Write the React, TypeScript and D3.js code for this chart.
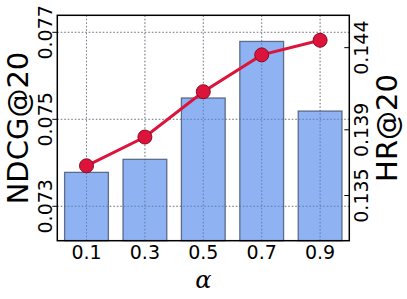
import React from "react";
import * as d3 from "d3";

const categories = ["0.1", "0.3", "0.5", "0.7", "0.9"];
const ndcgValues = [0.07378, 0.07408, 0.07549, 0.07679, 0.07519];
const hrValues = [0.13681, 0.13856, 0.14132, 0.14356, 0.14445];
const leftTicks = [0.073, 0.075, 0.077];
const rightTicks = [0.135, 0.139, 0.144];

const W = 407, H = 299;
const L = 57.3, R = 349.3, T = 15.3, B = 240.7;

export default function App() {
  const x = d3.scaleBand<string>().domain(categories).range([L, R]).paddingInner(0.25).paddingOuter(0.125);
  const yL = d3.scaleLinear().domain([0.072209, 0.077391]).range([B, T]);
  const yR = d3.scaleLinear().domain([0.13225, 0.14597]).range([B, T]);
  const cx = (c: string) => (x(c) as number) + x.bandwidth() / 2;
  const line = d3.line<number>().x((_, i) => cx(categories[i])).y((d) => yR(d));
  const font = "DejaVu Sans, sans-serif";
  const fs = 19;
  return (
    <div style={{ position: "absolute", left: 0, top: 0 }}>
      <svg width={W} height={H} style={{ display: "block", background: "#fff" }}>
        {/* grid */}
        {categories.map((c) => (
          <line key={"gx" + c} x1={cx(c)} x2={cx(c)} y1={T} y2={B} stroke="#999" strokeWidth={1} strokeDasharray="1.5,2" />
        ))}
        {leftTicks.map((t) => (
          <line key={"gy" + t} x1={L} x2={R} y1={yL(t)} y2={yL(t)} stroke="#999" strokeWidth={1} strokeDasharray="1.5,2" />
        ))}
        {/* bars */}
        {categories.map((c, i) => (
          <rect key={"b" + c} x={x(c) as number} y={yL(ndcgValues[i])} width={x.bandwidth()} height={B - yL(ndcgValues[i])}
            fill="#6495ED" fillOpacity={0.72} stroke="#3c4a66" strokeOpacity={0.75} strokeWidth={1.3} />
        ))}
        {/* grid above bars (faint) */}
        {categories.map((c) => (
          <line key={"gx2" + c} x1={cx(c)} x2={cx(c)} y1={T} y2={B} stroke="#5a6a88" strokeOpacity={0.5} strokeWidth={1} strokeDasharray="1.5,2" />
        ))}
        {leftTicks.map((t) => (
          <line key={"gy2" + t} x1={L} x2={R} y1={yL(t)} y2={yL(t)} stroke="#5a6a88" strokeOpacity={0.5} strokeWidth={1} strokeDasharray="1.5,2" />
        ))}
        {/* line */}
        <path d={line(hrValues) as string} fill="none" stroke="#DC143C" strokeWidth={3} />
        {hrValues.map((v, i) => (
          <circle key={"p" + i} cx={cx(categories[i])} cy={yR(v)} r={7} fill="#DC143C" stroke="#8b0a25" strokeWidth={1} />
        ))}
        {/* frame */}
        <rect x={L} y={T} width={R - L} height={B - T} fill="none" stroke="#000" strokeWidth={1.5} />
        {/* left ticks */}
        {leftTicks.map((t) => (
          <g key={"lt" + t}>
            <line x1={L - 5} x2={L} y1={yL(t)} y2={yL(t)} stroke="#000" strokeWidth={1} />
            <text transform={`translate(${52},${yL(t)}) rotate(-90)`} textAnchor="middle" fontFamily={font} fontSize={fs} fill="#000">
              {d3.format(".3f")(t)}
            </text>
          </g>
        ))}
        {/* right ticks */}
        {rightTicks.map((t) => (
          <g key={"rt" + t}>
            <line x1={R - 5} x2={R} y1={yR(t)} y2={yR(t)} stroke="#000" strokeWidth={1} />
            <text transform={`translate(${354},${yR(t)}) rotate(-90)`} textAnchor="middle" dy="0.74em" fontFamily={font} fontSize={fs} fill="#000">
              {d3.format(".3f")(t)}
            </text>
          </g>
        ))}
        {/* x tick labels */}
        {categories.map((c) => (
          <text key={"xt" + c} x={cx(c)} y={259} textAnchor="middle" fontFamily={font} fontSize={fs} fill="#000">{c}</text>
        ))}
        {/* axis labels */}
        <text transform={`translate(${28},${(T + B) / 2}) rotate(-90)`} textAnchor="middle" fontFamily={font} fontSize={29} fill="#000">NDCG@20</text>
        <text transform={`translate(${375},${(T + B) / 2}) rotate(-90)`} textAnchor="middle" dy="0.75em" fontFamily={font} fontSize={29} fill="#000">HR@20</text>
        <text x={(L + R) / 2} y={288} textAnchor="middle" fontFamily="DejaVu Serif, serif" fontStyle="italic" fontSize={24} fill="#000">α</text>
      </svg>
    </div>
  );
}
